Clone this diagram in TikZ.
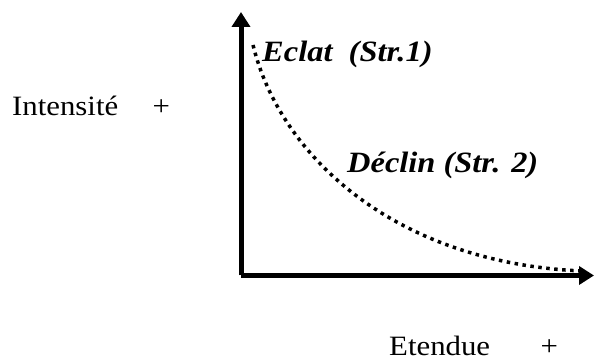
\documentclass[tikz,border=0pt]{standalone}
\usepackage{fontspec}
\setmainfont{Liberation Serif}[FakeStretch=1.1]
\usetikzlibrary{arrows.meta,positioning}
\tikzset{
  axe/.style={line width=5pt,-{Triangle[length=15pt,width=18pt]}},
  courbe/.style={line width=3.5pt,dash pattern=on 3.5pt off 4.5pt},
  phase/.style={font=\fontsize{29.5}{34}\selectfont\bfseries\itshape,inner sep=0pt,anchor=base west},
  grandeur/.style={font=\fontsize{28}{33}\selectfont,inner sep=0pt,anchor=base west},
}

\begin{document}
\begin{tikzpicture}[x=1pt,y=1pt]
  \useasboundingbox (0,0) rectangle (595,363);
  % axes
  \coordinate (O) at (241,87.5);
  \coordinate (Y) at (241,351);
  \coordinate (X) at (594,87.5);
  \draw[axe] (O) -- (Y); \draw[axe] (O) -- (X);
  % courbe
  \coordinate (debut) at (253,318);
  \coordinate (fin) at (582,92);
  \draw[courbe] (debut) .. controls (280,207) and (395,100) .. (fin);
  \node[phase] (eclat) at (262,301) {Eclat\ \ (Str.1)};
  \node[phase] (declin) at (347,190) {Déclin (Str. 2)};
  % grandeurs
  \node[grandeur] (intensite) at (12,247) {Intensité};
  \node[grandeur,right=34pt of intensite.base east,anchor=base west] (plusi) {+};
  \node[grandeur] (etendue) at (389,7) {Etendue};
  \node[grandeur,right=50pt of etendue.base east,anchor=base west] (pluse) {+};
\end{tikzpicture}
\end{document}
